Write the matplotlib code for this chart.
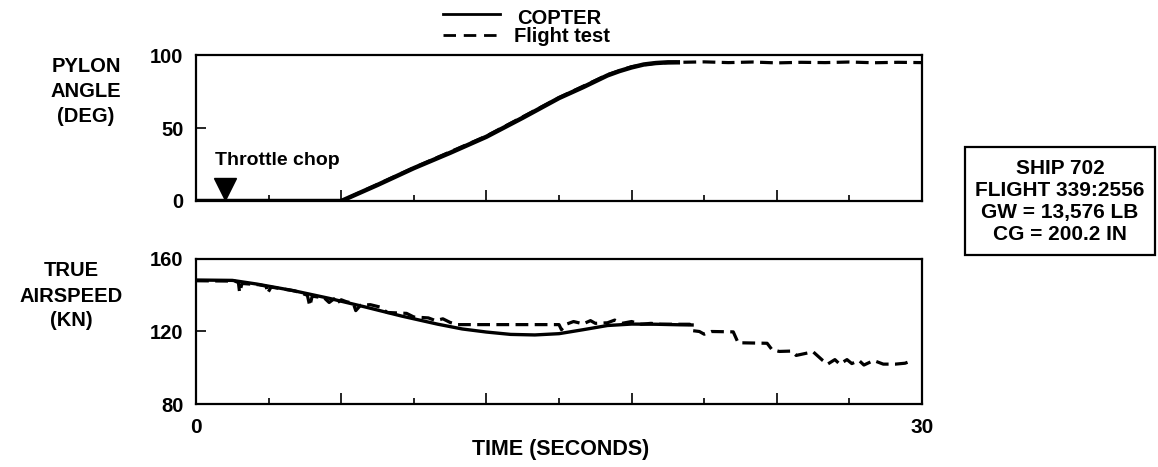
import matplotlib
matplotlib.use("Agg")
import matplotlib.pyplot as plt
from matplotlib.lines import Line2D
from matplotlib.patches import Rectangle
from matplotlib.transforms import offset_copy
from matplotlib.ticker import MultipleLocator, FixedLocator

plt.rcParams["font.family"] = ["Liberation Sans", "DejaVu Sans"]
plt.rcParams["font.weight"] = "bold"

# ---- pylon angle (deg) vs time (s) ----
copter_pylon_t = [0, 6.0, 7.5, 9, 10.5, 12, 13.5, 15, 16, 17, 17.5, 18, 18.5, 19, 19.5, 20]
copter_pylon = [0, 0, 11, 22.5, 33, 44, 57, 70.5, 78, 86, 89, 91.5, 93.5, 94.5, 95, 95]

flight_pylon_t = [0, 6, 9, 12, 15, 17, 18, 19, 20, 21, 22, 23, 24, 25, 26, 27, 28, 29, 30]
flight_pylon = [0, 0, 22.8, 44.5, 70.8, 86.5, 92, 94.5, 95, 95.3, 94.8, 95.2, 94.6,
                95, 94.8, 95.2, 94.7, 95, 94.8]

# ---- true airspeed (kn) vs time (s) ----
copter_tas_t = [0, 1.5, 2.5, 4, 5.5, 7, 8.5, 10, 11, 12, 13, 14, 15, 16, 17, 18, 19, 20, 20.5]
copter_tas = [148.4, 148.2, 146.2, 142.6, 138.3, 133.5, 128.5, 124, 121.4, 119.7, 118.4,
              118.1, 118.8, 121, 123.3, 124.1, 124, 123.7, 123.6]

flight_tas_t = [0, 1.6, 1.75, 1.8, 1.9, 2.6, 2.9, 2.95, 3.1, 3.9, 4.1, 4.6, 4.7, 4.8, 5.3,
                5.5, 5.7, 5.8, 6.0, 6.2, 6.5, 6.6, 6.8, 7.2, 7.6, 7.9, 8.7, 9.0, 9.6, 9.9,
                10.2, 10.5, 10.8, 15.0, 15.1, 15.3, 15.6, 16.0, 16.3, 16.5, 17.0, 17.3,
                17.6, 18.0, 18.4, 18.8, 19.2, 20.4, 20.5, 20.8, 21.0, 21.3, 22.2, 22.4,
                23.6, 23.8, 24.1, 24.6, 24.8, 25.5, 25.9, 26.1, 26.4, 26.6, 26.9, 27.1,
                27.4, 27.6, 28.0, 28.4, 28.9, 29.3, 29.6]
flight_tas = [148.0, 147.8, 147.0, 141.5, 146.5, 145.8, 145.0, 141.0, 144.5, 142.8, 142.3,
              140.0, 134.0, 139.5, 138.5, 136.0, 138.0, 135.5, 137.5, 136.5, 135.5, 131.5,
              134.5, 134.8, 133.5, 130.5, 130.0, 128.0, 127.5, 126.0, 127.0, 125.0, 123.8,
              123.8, 121.0, 124.0, 125.5, 124.2, 126.0, 124.5, 124.8, 126.3, 124.5, 125.5,
              124.0, 124.5, 124.0, 124.0, 120.5, 120.0, 118.5, 120.0, 119.8, 113.8, 113.5,
              110.0, 109.0, 109.2, 106.8, 108.8, 104.0, 102.0, 104.5, 102.0, 104.5, 102.3,
              104.0, 101.5, 104.0, 102.0, 102.0, 102.5, 104.0]

throttle_chop_t = 1.2
info_lines = ["SHIP 702", "FLIGHT 339:2556", "GW = 13,576 LB", "CG = 200.2 IN"]

FS = 14
DASH = (4, 2)

fig = plt.figure(figsize=(11.58, 4.67), dpi=100)
ax1 = fig.add_axes([0.1693, 0.5696, 0.6269, 0.3126])
ax2 = fig.add_axes([0.1693, 0.1349, 0.6269, 0.3105])

for ax in (ax1, ax2):
    ax.set_xlim(0, 30)
    ax.xaxis.set_major_locator(MultipleLocator(6))
    ax.xaxis.set_minor_locator(MultipleLocator(3))
    ax.tick_params(axis="x", which="major", direction="in", length=8, width=1.2,
                   labelsize=15, pad=10)
    ax.tick_params(axis="x", which="minor", direction="in", length=4, width=1.2)
    ax.tick_params(axis="y", direction="in", length=7, width=1.2, labelsize=14.5, pad=9)
    for s in ax.spines.values():
        s.set_linewidth(1.6)
    ax.set_xticklabels([])

# top panel
ax1.plot(copter_pylon_t, copter_pylon, color="black", lw=3.2, solid_capstyle="butt")
ax1.plot(flight_pylon_t, flight_pylon, color="black", lw=2.3, dashes=DASH)
ax1.set_ylim(0, 100)
ax1.yaxis.set_major_locator(FixedLocator([0, 50, 100]))
ax1.set_yticklabels(["0", "50", "100"], fontweight="bold")

tri = offset_copy(ax1.transData, fig=fig, y=8.3, units="points")
ax1.plot([throttle_chop_t], [0], marker="v", ms=16.5, color="black", transform=tri,
         clip_on=False)
ax1.text(0.8, 28, "Throttle chop", fontsize=FS, fontweight="bold", va="center", ha="left")

# bottom panel
ax2.plot(copter_tas_t, copter_tas, color="black", lw=2.4)
ax2.plot(flight_tas_t, flight_tas, color="black", lw=2.3, dashes=DASH)
ax2.set_ylim(80, 160)
ax2.yaxis.set_major_locator(FixedLocator([80, 120, 160]))
ax2.set_yticklabels(["80", "120", "160"], fontweight="bold")
ax2.xaxis.set_major_locator(FixedLocator([0, 6, 12, 18, 24, 30]))
ax2.set_xticklabels(["0", "", "", "", "", "30"], fontweight="bold")

# axis titles
fig.text(86 / 1158, 1 - 92 / 467, "PYLON\nANGLE\n(DEG)", fontsize=14.5, fontweight="bold",
         ha="center", va="center", linespacing=1.4)
fig.text(71 / 1158, 1 - 296 / 467, "TRUE\nAIRSPEED\n(KN)", fontsize=14.5, fontweight="bold",
         ha="center", va="center", linespacing=1.4)
fig.text(561 / 1158, 1 - 450 / 467, "TIME (SECONDS)", fontsize=15.5, fontweight="bold",
         ha="center", va="center")

# legend
fig.add_artist(Line2D([443 / 1158, 500 / 1158], [1 - 14 / 467, 1 - 14 / 467],
                      color="black", lw=2.0))
fig.add_artist(Line2D([443 / 1158, 500 / 1158], [1 - 35 / 467, 1 - 35 / 467],
                      color="black", lw=2.0, dashes=(4.5, 2.8)))
fig.text(517 / 1158, 1 - 18 / 467, "COPTER", fontsize=14.5, fontweight="bold",
         ha="left", va="center")
fig.text(514 / 1158, 1 - 37 / 467, "Flight test", fontsize=14.5, fontweight="bold",
         ha="left", va="center")

# info box
fig.add_artist(Rectangle((965 / 1158, 1 - 255 / 467), 190 / 1158, 108 / 467,
                         transform=fig.transFigure, fill=False, lw=1.6, ec="black"))
for i, line in enumerate(info_lines):
    fig.text(1060 / 1158, 1 - (168 + 22.2 * i) / 467, line, fontsize=15,
             fontweight="bold", ha="center", va="center")

fig.savefig("out.png", dpi=100)
